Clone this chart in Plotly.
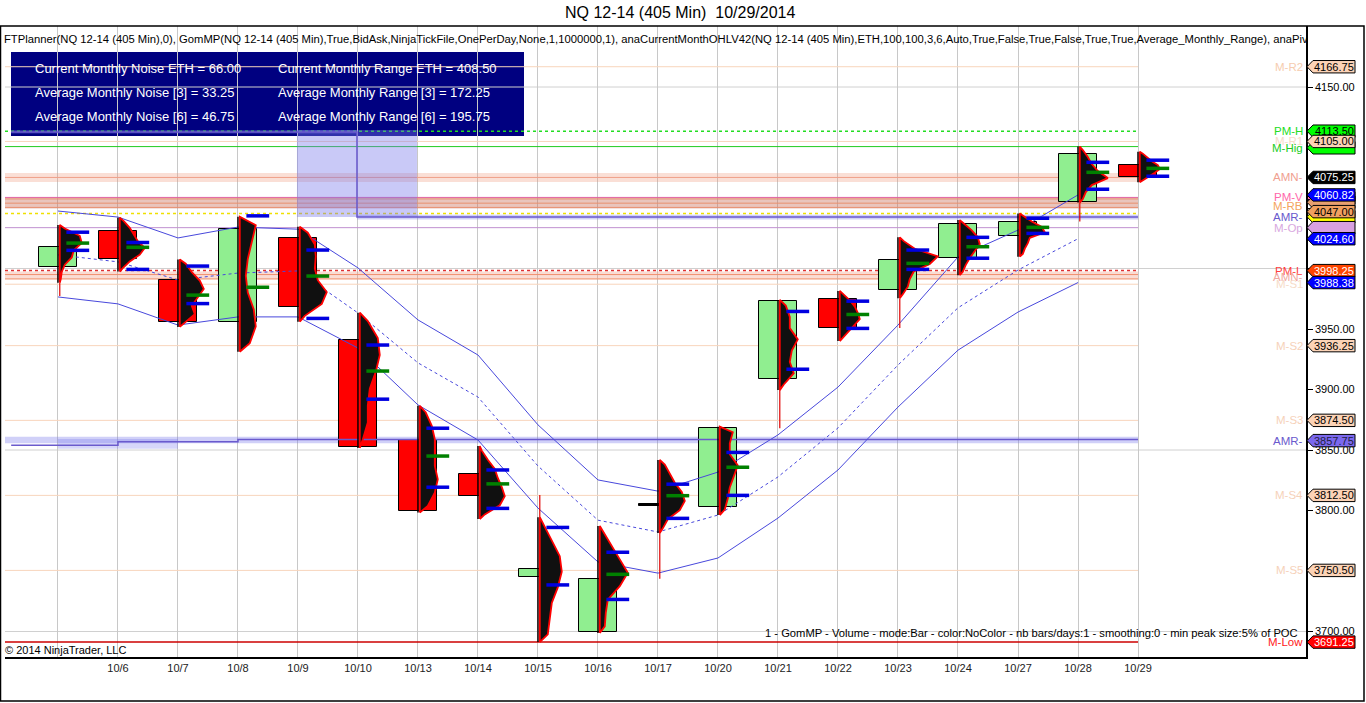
import plotly.graph_objects as go

title = "NQ 12-14 (405 Min)  10/29/2014"
header = ("FTPlanner(NQ 12-14 (405 Min),0), GomMP(NQ 12-14 (405 Min),True,BidAsk,NinjaTickFile,OnePerDay,None,1,1000000,1), "
          "anaCurrentMonthOHLV42(NQ 12-14 (405 Min),ETH,100,100,3,6,Auto,True,False,True,False,True,True,Average_Monthly_Range), anaPiv")
footer = "1 - GomMP - Volume - mode:Bar - color:NoColor - nb bars/days:1 - smoothing:0 - min peak size:5% of POC"
copyright_txt = "\u00a9 2014 NinjaTrader, LLC"

dates = ["", "10/6", "10/7", "10/8", "10/9", "10/10", "10/13", "10/14", "10/15", "10/16",
         "10/17", "10/20", "10/21", "10/22", "10/23", "10/24", "10/27", "10/28", "10/29"]

opens = [4001.25, 4031.0, 3990.5, 3956.0, 4025.0, 3941.0, 3858.25, 3830.25, 3745.25, 3699.5,
         3804.0, 3802.5, 3908.5, 3974.5, 3982.0, 4008.5, 4026.5, 4055.25, 4085.25]
highs = [4036.0, 4042.0, 4007.5, 4042.75, 4034.5, 3963.5, 3886.5, 3853.25, 3794.5, 3787.25,
         3841.75, 3869.25, 3974.0, 3981.5, 4025.75, 4040.0, 4045.5, 4100.75, 4096.5]
lows = [3988.25, 3997.5, 3951.75, 3931.25, 3956.0, 3851.75, 3798.25, 3793.0, 3691.25, 3698.75,
        3781.5, 3796.25, 3899.5, 3940.0, 3975.5, 3994.5, 4009.75, 4054.5, 4071.25]
closes = [4017.75, 4007.75, 3956.0, 4032.5, 3968.5, 3852.25, 3799.75, 3812.25, 3751.5, 3743.25,
          3804.0, 3868.0, 3973.0, 3950.5, 4006.75, 4036.5, 4038.25, 4094.5, 4075.25]

# red tick tails beyond the candle wick
tail_bar = [0, 8, 10, 12, 14, 17]
tail_end = [3977.25, 3812.75, 3743.5, 3868.0, 3950.75, 4038.75]

# volume profile (relative volume per price bin, bottom to top)
profile_vol = [
    [1, 2, 5, 12, 14, 22, 20, 5],
    [3, 10, 20, 25, 18, 14, 10, 4],
    [5, 15, 12, 18, 24, 20, 12, 6],
    [10, 16, 14, 8, 6, 8, 12, 16],
    [5, 22, 27, 18, 15, 16, 15, 8],
    [3, 8, 8, 10, 16, 20, 18, 8],
    [8, 15, 18, 15, 15, 15, 12, 6],
    [5, 20, 25, 22, 18, 15, 8, 2],
    [8, 10, 12, 18, 22, 20, 12, 4],
    [5, 6, 8, 20, 28, 20, 12, 4],
    [3, 8, 20, 25, 22, 15, 10, 5],
    [5, 8, 10, 14, 18, 10, 10, 13],
    [4, 14, 10, 12, 18, 10, 10, 6],
    [3, 8, 15, 20, 18, 15, 10, 3],
    [3, 8, 10, 14, 30, 38, 15, 4],
    [3, 6, 10, 15, 20, 18, 12, 4],
    [3, 5, 8, 10, 25, 22, 12, 4],
    [3, 6, 12, 28, 18, 12, 8, 3],
    [3, 10, 15, 20, 18, 12, 8, 3],
]
va_high = [4030.0, 4021.5, 4002.0, 4043.5, 4015.25, 3936.75, 3868.0, 3833.5, 3786.0, 3765.5,
           3821.75, 3848.0, 3964.5, 3973.0, 4015.25, 4025.75, 4041.5, 4087.75, 4089.5]
poc = [4021.0, 4017.5, 3978.0, 3984.5, 3993.75, 3915.25, 3845.0, 3822.0, None, 3747.25,
       3812.25, 3835.75, None, 3962.0, 4004.25, 4018.0, 4034.0, 4079.5, 4082.75]
va_low = [4015.0, 3999.25, 3971.0, None, 3958.75, 3892.0, 3819.25, 3801.75, 3738.5, 3726.5,
          3793.5, 3812.5, 3916.75, 3950.5, 3999.25, 4008.5, 4029.0, 4065.5, 4076.25]

band_up = [4047.5, 4042.5, 4025.25, 4034.25, 4032.5, 4000.5, 3957.5, 3928.5, 3870.75, 3825.25,
           3816.0, 3831.75, 3862.5, 3902.0, 3953.25, 4009.5, 4031.75, 4060.82]
band_mid = [4011.25, 4005.5, 3990.5, 3996.25, 3998.0, 3963.25, 3922.0, 3893.75, 3836.75, 3792.0,
            3782.25, 3796.25, 3827.75, 3868.25, 3920.25, 3967.5, 3998.75, 4024.60]
band_low = [3976.5, 3970.75, 3953.25, 3960.0, 3960.0, 3934.25, 3887.25, 3858.25, 3802.0, 3757.5,
            3748.25, 3760.75, 3793.75, 3833.5, 3885.5, 3932.5, 3964.0, 3988.38]

# monthly levels: value, colour, width, dash
levels = [
    (4166.75, "#F8D5BC", 1, "solid"),
    (4113.50, "#22DD22", 1.5, "dot"),
    (4105.00, "#F8D5BC", 1, "solid"),
    (4100.75, "#22CC22", 1, "solid"),
    (4075.25, "#F0A088", 1, "solid"),
    (4058.75, "#E060A0", 1, "solid"),
    (4057.50, "#E89070", 1, "solid"),
    (4054.00, "#E89070", 1, "solid"),
    (4050.50, "#E89070", 1, "solid"),
    (4045.50, "#F0E000", 1.5, "dot"),
    (4033.75, "#C090D0", 1, "solid"),
    (3998.25, "#E03030", 1.5, "dot"),
    (3995.00, "#F09070", 1, "solid"),
    (3991.50, "#F0A080", 1, "solid"),
    (3987.00, "#F8D5BC", 1, "solid"),
    (3936.25, "#F8D5BC", 1, "solid"),
    (3874.50, "#F8D5BC", 1, "solid"),
    (3812.50, "#F8D5BC", 1, "solid"),
    (3750.50, "#F8D5BC", 1, "solid"),
    (3691.25, "#CC0000", 1.5, "solid"),
]
zones = [(4071.5, 4079.0, "rgba(240,150,120,0.30)"),
         (4049.5, 4058.5, "rgba(200,110,90,0.40)"),
         (3990.5, 3997.5, "rgba(240,140,110,0.30)")]

amr_up_x = [-0.78, 4.983, 18]
amr_up_y = [4112.75, 4042.5, 4042.5]
amr_dn_x = [-0.78, 1, 3, 18]
amr_dn_y = [3854.0, 3856.9, 3858.6, 3858.6]

label_names = ["M-R2", "PM-H", "M-R1", "M-Hig", "AMN-", "PM-V", "M-RB", "AMR-", "M-Op",
               "PM-L", "AMN-", "M-S1", "M-S2", "M-S3", "AMR-", "M-S4", "M-S5", "M-Low"]
label_values = [4166.75, 4113.5, 4105.0, 4099.75, 4075.25, 4059.5, 4052.0, 4042.5, 4033.75,
                3998.25, 3993.0, 3987.0, 3936.25, 3874.5, 3857.75, 3812.5, 3750.5, 3691.25]
label_colors = ["#F6CDB0", "#22DD22", "#F6DCC8", "#22CC22", "#F0A090", "#FF66AA", "#F4A460",
                "#6A5ACD", "#D8A8E0", "#FF4040", "#F0A8A0", "#F6DCC8", "#F6D2BA", "#F6D2BA",
                "#6A5ACD", "#F6D2BA", "#F6D2BA", "#FF2020"]

peach = "#FCD3B6"
tag_values = [4166.75, 4113.50, 4099.75, 4105.00, 4075.25, 4058.25, 4054.75, 4042.75, 4033.75,
              4060.82, 4047.00, 4024.60, 3998.25, 3988.38, 3936.25, 3874.50, 3857.75, 3812.50,
              3750.50, 3691.25]
tag_text = ["4166.75", "4113.50", "", "4105.00", "4075.25", "", "", "", "",
            "4060.82", "4047.00", "4024.60", "3998.25", "3988.38", "3936.25", "3874.50", "3857.75",
            "3812.50", "3750.50", "3691.25"]
tag_fill = [peach, "#00FF00", "#00FF00", peach, "#000000", "#FF69B4", "#E8A070", "#FFFF00",
            "#D8A0E0", "#0000FF", "#F0A060", "#0000FF", "#FF4500", "#0000FF", peach, peach,
            "#7B68EE", peach, peach, "#FF0000"]
tag_font = ["black", "black", "black", "black", "white", "black", "black", "black", "black",
            "white", "black", "white", "white", "white", "black", "black", "#202040",
            "black", "black", "white"]

grid_prices = [4150, 4000, 3850, 3700]
tick_prices = [4150, 4100, 4050, 4000, 3950, 3900, 3850, 3800, 3750, 3700]
tick_shown = [4150, 3950, 3900, 3850, 3800, 3700]

info_left = ["Current Monthly Noise ETH = 66.00", "Average Monthly Noise [3] = 33.25",
             "Average Monthly Noise [6] = 46.75"]
info_right = ["Current Monthly Range ETH = 408.50", "Average Monthly Range [3] = 172.25",
              "Average Monthly Range [6] = 195.75"]

# ---- geometry (pixels of the 1366x703 picture)
W, H = 1366, 703
L, R, T, B = 5, 1306, 26, 657
PX = 1 / 60.0              # bar spacing is 60 px
PPX = 1.21                 # pixels per point
X0, X1 = -0.883, 20.8
Y1 = 4150 + (87 - T) / PPX
Y0 = 4150 - (B - 87) / PPX
FONT = "Liberation Sans, Arial, sans-serif"
MID = "between"
n = len(opens)


def px_x(p):
    return (p - L) / (R - L)


def px_y(p):
    return (B - p) / (B - T)


fig = go.Figure()
shapes = []
ann = []

for g in grid_prices:
    shapes.append(dict(type="line", xref="x", yref="y", x0=X0, x1=X1, y0=g, y1=g,
                       line=dict(color="#D0D0D0", width=1), layer="below"))
for lo, hi, c in zones:
    shapes.append(dict(type="rect", xref="x", yref="y", x0=X0, x1=18, y0=lo, y1=hi,
                       fillcolor=c, line=dict(width=0), layer=MID))
for v, c, w, d in levels:
    shapes.append(dict(type="line", xref="x", yref="y", x0=X0, x1=18, y0=v, y1=v,
                       line=dict(color=c, width=w, dash=d), layer=MID))

# info box (under the AMR overlays, over the level lines and grid)
shapes.append(dict(type="rect", xref="paper", yref="paper", x0=px_x(11), x1=px_x(524),
                   y0=px_y(136), y1=px_y(52), fillcolor="#000080", line=dict(width=0),
                   layer=MID))

# AMR shaded areas
shapes.append(dict(type="rect", xref="x", yref="y", x0=3.983, x1=5.983, y0=4042.5, y1=4114.5,
                   fillcolor="rgba(120,120,235,0.40)", line=dict(width=0), layer=MID))
shapes.append(dict(type="rect", xref="x", yref="y", x0=-0.78, x1=4.983, y0=4111.5, y1=4114.5,
                   fillcolor="rgba(120,120,235,0.35)", line=dict(width=0), layer=MID))
shapes.append(dict(type="rect", xref="x", yref="y", x0=4.983, x1=18, y0=4040.5, y1=4044.5,
                   fillcolor="rgba(120,120,235,0.35)", line=dict(width=0), layer=MID))
shapes.append(dict(type="rect", xref="x", yref="y", x0=X0, x1=18, y0=3855.5, y1=3861.0,
                   fillcolor="rgba(120,120,235,0.35)", line=dict(width=0), layer=MID))
shapes.append(dict(type="rect", xref="x", yref="y", x0=0, x1=2, y0=3851.0, y1=3859.0,
                   fillcolor="rgba(120,120,235,0.30)", line=dict(width=0), layer=MID))

# AMR step lines
for xs, ys in ((amr_up_x, amr_up_y), (amr_dn_x, amr_dn_y)):
    fig.add_trace(go.Scatter(x=xs, y=ys, mode="lines", line=dict(color="#6A5ACD", width=1.5, shape="hv"),
                             hoverinfo="skip"))

# channel lines
bx = list(range(len(band_up)))
fig.add_trace(go.Scatter(x=bx, y=band_up, mode="lines", line=dict(color="#4848DC", width=1)))
fig.add_trace(go.Scatter(x=bx, y=band_mid, mode="lines", line=dict(color="#4848DC", width=1, dash="dot")))
fig.add_trace(go.Scatter(x=bx, y=band_low, mode="lines", line=dict(color="#4848DC", width=1)))

# wicks
wx, wy = [], []
for i in range(n):
    wx += [i, i, None]
    wy += [lows[i], highs[i], None]
fig.add_trace(go.Scatter(x=wx, y=wy, mode="lines", line=dict(color="black", width=1.5)))

# bodies
base, height, colors = [], [], []
for o, c in zip(opens, closes):
    base.append(min(o, c))
    height.append(max(abs(c - o), 1.6))
    colors.append("#90EE90" if c > o else ("#FF0000" if c < o else "#000000"))
fig.add_trace(go.Bar(x=list(range(n)), y=height, base=base, width=0.62,
                     marker=dict(color=colors, line=dict(color="black", width=1))))

# tails
tx, ty = [], []
for b, e in zip(tail_bar, tail_end):
    start = lows[b] if e < lows[b] else highs[b]
    tx += [b + 0.03, b + 0.03, None]
    ty += [start, e, None]
fig.add_trace(go.Scatter(x=tx, y=ty, mode="lines", line=dict(color="#E00000", width=1.2)))

# volume profiles
for i in range(n):
    lo, hi = lows[i], highs[i]
    vols = profile_vol[i]
    step = (hi - lo) / len(vols)
    x0 = i + 0.03
    xs, ys = [x0], [lo]
    for j, v in enumerate(vols):
        xs.append(x0 + v * PX)
        ys.append(lo + (j + 0.5) * step)
    xs += [x0, x0]
    ys += [hi, lo]
    fig.add_trace(go.Scatter(x=xs, y=ys, mode="lines", fill="toself", fillcolor="#101010",
                             line=dict(color="#FF0000", width=1.8), hoverinfo="skip"))

# value area / POC markers
for vals, col in ((va_high, "#0000E0"), (va_low, "#0000E0"), (poc, "#008000")):
    mx, my = [], []
    for i, v in enumerate(vals):
        if v is None:
            continue
        mx += [i + 0.14, i + 0.52, None]
        my += [v, v, None]
    fig.add_trace(go.Scatter(x=mx, y=my, mode="lines", line=dict(color=col, width=3.5)))

# info box texts
for k, yy in enumerate([69, 92, 116]):
    ann.append(dict(xref="paper", yref="paper", x=px_x(33), y=px_y(yy), text=info_left[k],
                    showarrow=False, xanchor="left", yanchor="middle",
                    font=dict(family=FONT, size=13, color="white")))
    ann.append(dict(xref="paper", yref="paper", x=px_x(276), y=px_y(yy), text=info_right[k],
                    showarrow=False, xanchor="left", yanchor="middle",
                    font=dict(family=FONT, size=13, color="white")))

# indicator header
ann.append(dict(xref="paper", yref="paper", x=px_x(2), y=px_y(39), text=header, showarrow=False,
                xanchor="left", yanchor="middle", font=dict(family=FONT, size=11.25, color="black")))

# level names next to the price axis
for name, v, c in zip(label_names, label_values, label_colors):
    ann.append(dict(xref="paper", yref="y", x=1.0, y=v, text=name, showarrow=False,
                    xanchor="right", yanchor="middle", xshift=-1,
                    font=dict(family=FONT, size=11.5, color=c)))

# price tags
tip, left, right = px_x(1307), px_x(1313), px_x(1355)
hh = 6.2 / PPX
for v, t, f, fc in zip(tag_values, tag_text, tag_fill, tag_font):
    path = f"M {tip},{v} L {left},{v + hh} L {right},{v + hh} L {right},{v - hh} L {left},{v - hh} Z"
    shapes.append(dict(type="path", xref="paper", yref="y", path=path, fillcolor=f,
                       line=dict(color="black", width=1), layer="above"))
    if t:
        ann.append(dict(xref="paper", yref="y", x=(left + right) / 2, y=v, text=t,
                        showarrow=False, xanchor="center", yanchor="middle",
                        font=dict(family=FONT, size=11, color=fc)))

# texts
ann.append(dict(xref="paper", yref="paper", x=px_x(680), y=px_y(13), text=title, showarrow=False,
                xanchor="center", yanchor="middle", font=dict(family=FONT, size=16, color="black")))
ann.append(dict(xref="paper", yref="paper", x=px_x(3), y=px_y(650), text=copyright_txt,
                showarrow=False, xanchor="left", yanchor="middle",
                font=dict(family=FONT, size=11, color="black")))
ann.append(dict(xref="paper", yref="paper", x=px_x(1300), y=px_y(633), text=footer,
                showarrow=False, xanchor="right", yanchor="middle",
                font=dict(family=FONT, size=11.2, color="black")))

# outer frame
shapes.append(dict(type="rect", xref="paper", yref="paper", x0=px_x(0.5), x1=px_x(1364),
                   y0=px_y(701), y1=1, line=dict(color="black", width=1.5), layer="above"))

fig.update_layout(
    width=W, height=H,
    margin=dict(l=L, r=W - R, t=T, b=H - B),
    paper_bgcolor="white", plot_bgcolor="white",
    showlegend=False, bargap=0,
    shapes=shapes, annotations=ann,
    xaxis=dict(range=[X0, X1], tickmode="array", tickvals=list(range(n)), ticktext=dates,
               showgrid=True, gridcolor="#C8C8C8", gridwidth=1, zeroline=False,
               showline=True, linecolor="black", linewidth=1.5, ticks="",
               tickfont=dict(family=FONT, size=11, color="#222222")),
    yaxis=dict(range=[Y0, Y1], side="right", tickmode="array", tickvals=tick_prices,
               ticktext=[f"{p:.2f}" if p in tick_shown else "" for p in tick_prices],
               showgrid=False, zeroline=False, showline=True, linecolor="black", linewidth=1.5,
               ticks="outside", ticklen=5, tickcolor="black",
               tickfont=dict(family=FONT, size=11, color="black")),
)

fig.write_html("out.html", config={"displayModeBar": False},
               post_script="document.body.style.margin='0px';")
